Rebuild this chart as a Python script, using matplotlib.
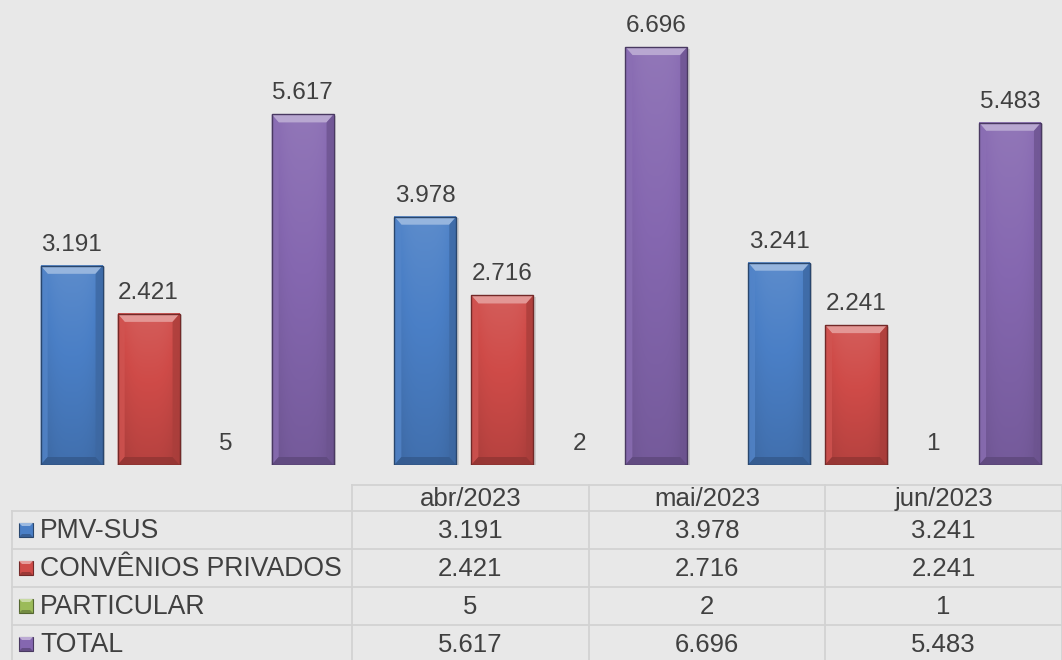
import numpy as np
import matplotlib
matplotlib.use("Agg")
import matplotlib.pyplot as plt
from matplotlib.patches import Polygon, Rectangle
from matplotlib.colors import to_rgb

# ---- data -------------------------------------------------------------
months = ["abr/2023", "mai/2023", "jun/2023"]
series_names = ["PMV-SUS", "CONVÊNIOS PRIVADOS", "PARTICULAR", "TOTAL"]
pmv_sus = [3191, 3978, 3241]
convenios = [2421, 2716, 2241]
particular = [5, 2, 1]
total = [5617, 6696, 5483]
series_values = [pmv_sus, convenios, particular, total]
series_colors = ["#4a7fc6", "#cf4b48", "#9bbb59", "#8567b0"]

W, H, DPI = 1062, 660, 100
BG = "#e8e8e8"
TXT = "#404040"
plt.rcParams["font.family"] = ["Liberation Sans", "DejaVu Sans"]


def fmt(v):
    return f"{v:,}".replace(",", ".")


def shade(c, f):
    r, g, b = to_rgb(c)
    if f >= 0:
        return (r + (1 - r) * f, g + (1 - g) * f, b + (1 - b) * f)
    return (r * (1 + f), g * (1 + f), b * (1 + f))


def bevel_box(ax, x0, x1, y0, y1, color, bx, by, z=3):
    """Filled box with a bevelled, gradient look (data coordinates)."""
    if y1 - y0 <= 0:
        return
    if y1 - y0 < 2 * by:
        # too thin for any relief: plain fill only
        ax.add_patch(Rectangle((x0, y0), x1 - x0, y1 - y0, facecolor=color,
                               edgecolor="none", zorder=z))
        return
    bx = min(bx, (x1 - x0) / 2)
    # soft drop shadow
    ax.add_patch(Rectangle((x0 + bx * 0.35, y0 - by * 0.2), x1 - x0, y1 - y0,
                           facecolor="#9a9a9a", alpha=0.35, edgecolor="none",
                           zorder=z - 0.5))
    # body gradient: lighter top, darker bottom, darker side edges
    ny, nx = 64, 32
    v = np.linspace(0.10, -0.12, ny)[:, None]
    u = np.linspace(-1, 1, nx)[None, :]
    f = v - 0.10 * np.abs(u) ** 3
    base = np.array(to_rgb(color))
    img = np.where(f[..., None] >= 0,
                   base + (1 - base) * f[..., None],
                   base * (1 + f[..., None]))
    ax.imshow(np.clip(img, 0, 1), extent=(x0, x1, y0, y1), origin="upper",
              aspect="auto", interpolation="bilinear", zorder=z)
    # bevel facets
    top = [(x0, y1), (x1, y1), (x1 - bx, y1 - by), (x0 + bx, y1 - by)]
    left = [(x0, y0), (x0, y1), (x0 + bx, y1 - by), (x0 + bx, y0 + by)]
    right = [(x1, y0), (x1, y1), (x1 - bx, y1 - by), (x1 - bx, y0 + by)]
    bottom = [(x0, y0), (x1, y0), (x1 - bx, y0 + by), (x0 + bx, y0 + by)]
    ax.add_patch(Polygon(top, closed=True, facecolor=shade(color, 0.42),
                         edgecolor="none", zorder=z + 0.1))
    ax.add_patch(Polygon(left, closed=True, facecolor=shade(color, 0.05),
                         edgecolor="none", alpha=0.8, zorder=z + 0.1))
    ax.add_patch(Polygon(right, closed=True, facecolor=shade(color, -0.18),
                         edgecolor="none", alpha=0.8, zorder=z + 0.1))
    ax.add_patch(Polygon(bottom, closed=True, facecolor=shade(color, -0.28),
                         edgecolor="none", alpha=0.9, zorder=z + 0.1))
    ax.add_patch(Rectangle((x0, y0), x1 - x0, y1 - y0, facecolor="none",
                           edgecolor=shade(color, -0.45), linewidth=1.0,
                           zorder=z + 0.2))


fig = plt.figure(figsize=(W / DPI, H / DPI), dpi=DPI, facecolor=BG)

# ---- bar chart -----------------------------------------------------------
ax = fig.add_axes([0, (H - 465) / H, 1, 465 / H])
ax.set_facecolor("none")
x = np.arange(len(months))
ax.set_xlim(-0.529, 2.4735)
ax.set_ylim(0, 7450)
ax.axis("off")

n = len(series_names)
step = 0.2177
width = 0.175
px_x = (ax.get_xlim()[1] - ax.get_xlim()[0]) / W
px_y = (ax.get_ylim()[1] - ax.get_ylim()[0]) / 465
for i, (vals, col) in enumerate(zip(series_values, series_colors)):
    offs = (i - (n - 1) / 2) * step
    bars = ax.bar(x + offs, vals, width=width, color="none", edgecolor="none")
    for b, v in zip(bars, vals):
        bx0, bx1 = b.get_x(), b.get_x() + b.get_width()
        bevel_box(ax, bx0, bx1, 0, b.get_height(), col, 7 * px_x, 8 * px_y)
        ax.text(b.get_x() + b.get_width() / 2, b.get_height() + 10 * px_y,
                fmt(v), ha="center", va="bottom", fontsize=17.5, color=TXT,
                zorder=6)

# ---- data table ----------------------------------------------------------
tab = fig.add_axes([0, 0, 1, 1])
tab.set_xlim(0, W)
tab.set_ylim(H, 0)
tab.axis("off")
tab.set_facecolor("none")

left_x, label_x1, right_x = 12, 352, 1062
head_top, head_bot = 485, 511
row_h = 38
col_w = (right_x - label_x1) / len(months)
col_edges = [label_x1 + k * col_w for k in range(len(months) + 1)]
row_edges = [head_bot + k * row_h for k in range(len(series_names) + 1)]
grid = dict(color="#d2d2d2", linewidth=1.3, zorder=2)

tab.plot([label_x1, right_x], [head_top, head_top], **grid)
for yy in row_edges:
    tab.plot([left_x, right_x], [yy, yy], **grid)
tab.plot([left_x, left_x], [head_bot, row_edges[-1]], **grid)
for xx in col_edges:
    tab.plot([xx, xx], [head_top, row_edges[-1]], **grid)

for k, m in enumerate(months):
    tab.text((col_edges[k] + col_edges[k + 1]) / 2, (head_top + head_bot) / 2 + 1,
             m, ha="center", va="center", fontsize=18.5, color=TXT)

for r, (name, vals, col) in enumerate(zip(series_names, series_values,
                                          series_colors)):
    yc = (row_edges[r] + row_edges[r + 1]) / 2
    # bevelled legend key
    k0, k1 = 19, 33
    tab.add_patch(Rectangle((k0, yc - 7), k1 - k0, 14, facecolor=col,
                            edgecolor=shade(col, -0.45), linewidth=0.8, zorder=4))
    tab.add_patch(Polygon([(k0, yc - 7), (k1, yc - 7), (k1 - 3, yc - 4),
                           (k0 + 3, yc - 4)], closed=True,
                          facecolor=shade(col, 0.45), edgecolor="none", zorder=5))
    tab.add_patch(Polygon([(k0, yc + 7), (k1, yc + 7), (k1 - 3, yc + 4),
                           (k0 + 3, yc + 4)], closed=True,
                          facecolor=shade(col, -0.25), edgecolor="none", zorder=5))
    tab.text(40, yc + 1, name, ha="left", va="center", fontsize=19.2, color=TXT)
    for k, v in enumerate(vals):
        tab.text((col_edges[k] + col_edges[k + 1]) / 2, yc + 1, fmt(v),
                 ha="center", va="center", fontsize=18.5, color=TXT)

fig.savefig("out.png", dpi=DPI, facecolor=BG)
